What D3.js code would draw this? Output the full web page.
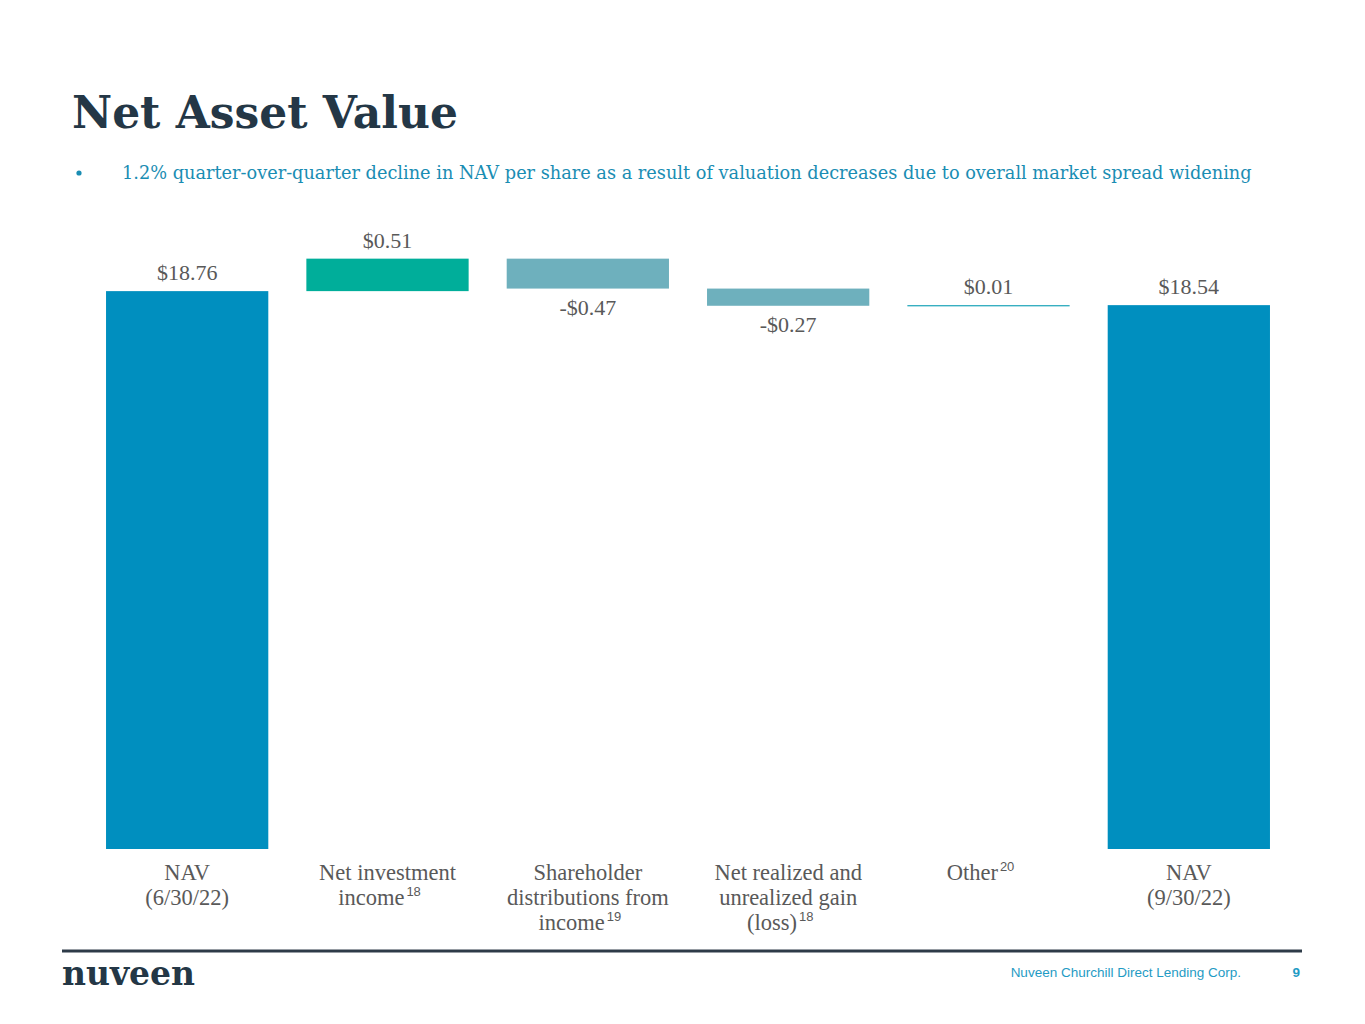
<!DOCTYPE html>
<html>
<head>
<meta charset="utf-8">
<script src="https://cdn.jsdelivr.net/npm/d3@7"></script>
<style>
  body { margin: 0; background: #fff; }
  svg { display: block; }
</style>
</head>
<body>
<script>
// DATA
const catLines = [
  ["NAV", "(6/30/22)"],
  ["Net investment", "income"],
  ["Shareholder", "distributions from", "income"],
  ["Net realized and", "unrealized gain", "(loss)"],
  ["Other"],
  ["NAV", "(9/30/22)"]
];
const footnotes = ["", "18", "19", "18", "20", ""];
const values = [18.76, 0.51, -0.47, -0.27, 0.01, 18.54];
const kinds = ["total", "delta", "delta", "delta", "delta", "total"];
const valueLabels = ["$18.76", "$0.51", "-$0.47", "-$0.27", "$0.01", "$18.54"];

// MAKE THE CHART
const W = 1365, H = 1024;
const serif = "'Liberation Serif', 'DejaVu Serif', serif";
const wideSerif = "'DejaVu Serif', 'Liberation Serif', serif";

const svg = d3.select("body").append("svg")
  .attr("width", W)
  .attr("height", H);

// shrink/grow a text's font size until it spans the given width
function fitWidth(sel, target) {
  const fs = parseFloat(sel.style("font-size"));
  const w = sel.node().getComputedTextLength();
  sel.style("font-size", (fs * target / w) + "px");
}

// build waterfall steps
let run = 0;
const steps = values.map((v, i) => {
  let lo, hi;
  if (kinds[i] === "total") { lo = 10; hi = v; run = v; }
  else { const start = run; run = run + v; lo = Math.min(start, run); hi = Math.max(start, run); }
  return { i, v, lo, hi, kind: kinds[i], label: valueLabels[i] };
});

const xScale = d3.scaleBand().domain(d3.range(values.length))
  .range([87, 1289]).paddingInner(0.19).paddingOuter(0.095);
const yScale = d3.scaleLinear().domain([10, 19.5]).range([849, 244]);

const color = d => d.kind === "total" ? "#008fbf" : (d.v > 0.05 ? "#00ae9a" : (d.v < 0 ? "#6eb0bd" : "#1aa3b8"));

// title
const title = svg.append("text")
  .text("Net Asset Value")
  .attr("x", 72).attr("y", 128)
  .attr("fill", "#243746")
  .style("font-family", wideSerif)
  .style("font-weight", "bold")
  .style("font-size", "46px");
fitWidth(title, 386);

// bullet
svg.append("circle").attr("cx", 79).attr("cy", 173).attr("r", 2.6).attr("fill", "#1a8db3");
const sub = svg.append("text")
  .text("1.2% quarter-over-quarter decline in NAV per share as a result of valuation decreases due to overall market spread widening")
  .attr("x", 122).attr("y", 179)
  .attr("fill", "#1a8db3")
  .style("font-family", wideSerif)
  .style("font-size", "18px");
fitWidth(sub, 1130);

// bars
svg.selectAll("rect.bar")
  .data(steps)
  .enter().append("rect")
  .attr("class", "bar")
  .attr("x", d => xScale(d.i))
  .attr("width", xScale.bandwidth())
  .attr("y", d => yScale(d.hi))
  .attr("height", d => Math.max(1.2, yScale(d.lo) - yScale(d.hi)))
  .attr("fill", color);

// value labels
svg.selectAll("text.val")
  .data(steps)
  .enter().append("text")
  .attr("class", "val")
  .text(d => d.label)
  .attr("x", d => xScale(d.i) + xScale.bandwidth() / 2)
  .attr("y", d => d.v < 0 ? yScale(d.lo) + 26 : yScale(d.hi) - 11)
  .attr("text-anchor", "middle")
  .attr("fill", "#595959")
  .style("font-family", serif)
  .style("font-size", "22px");

// category labels
const cat = svg.selectAll("text.cat")
  .data(catLines)
  .enter().append("text")
  .attr("class", "cat")
  .attr("text-anchor", "middle")
  .attr("fill", "#595959")
  .style("font-family", serif)
  .style("font-size", "22.5px")
  .attr("transform", (d, i) => `translate(${xScale(i) + xScale.bandwidth() / 2},880)`);

cat.each(function (lines, i) {
  const t = d3.select(this);
  lines.forEach((ln, j) => {
    const last = j === lines.length - 1;
    const tl = t.append("tspan").attr("x", 0).attr("dy", j === 0 ? 0 : 25);
    if (last && footnotes[i]) {
      tl.append("tspan").text(ln);
      tl.append("tspan").text(footnotes[i])
        .attr("dx", 2)
        .attr("dy", -9)
        .style("font-family", "'Liberation Sans', Arial, sans-serif")
        .style("font-size", "13px");
      tl.attr("x", -8);
      t.append("tspan").attr("dy", 9).text("");
    } else {
      tl.text(ln);
    }
  });
});

// footer
svg.append("line")
  .attr("x1", 62).attr("x2", 1302)
  .attr("y1", 951).attr("y2", 951)
  .attr("stroke", "#2e3b48").attr("stroke-width", 3);

const logo = svg.append("text")
  .text("nuveen")
  .attr("x", 62).attr("y", 985)
  .attr("fill", "#243746")
  .style("font-family", wideSerif)
  .style("font-weight", "bold")
  .style("font-size", "30px");
fitWidth(logo, 133);

svg.append("text")
  .text("Nuveen Churchill Direct Lending Corp.")
  .attr("x", 1241).attr("y", 977)
  .attr("text-anchor", "end")
  .attr("fill", "#1f9bc4")
  .style("font-family", "'Liberation Sans', Arial, sans-serif")
  .style("font-size", "13.5px");

svg.append("text")
  .text("9")
  .attr("x", 1300).attr("y", 977)
  .attr("text-anchor", "end")
  .attr("fill", "#1f9bc4")
  .style("font-family", "'Liberation Sans', Arial, sans-serif")
  .style("font-weight", "bold")
  .style("font-size", "13.5px");
</script>
</body>
</html>
